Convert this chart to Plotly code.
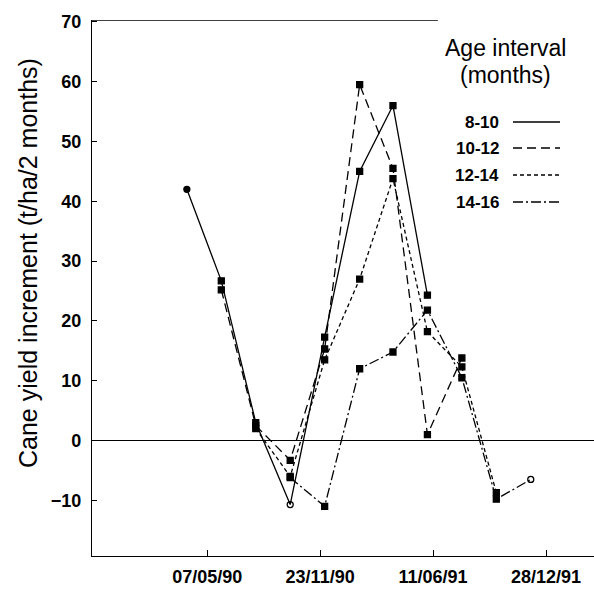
import plotly.graph_objects as go

dates = ['1990-04-01', '1990-06-01', '1990-08-01', '1990-10-01', '1990-12-01',
         '1991-02-01', '1991-04-01', '1991-06-01', '1991-08-01', '1991-10-01',
         '1991-12-01']

age_8_10 = [42, 26.7, 3, -10.7, 17.3, 45, 56, 24.3]
age_10_12 = [25.2, 2.5, -3.3, 15.3, 59.5, 45.5, 1, 13.8]
age_12_14 = [2, -6, 13.5, 27, 43.8, 18.2, 12.3, -8.7]
age_14_16 = [-6.2, -11, 12, 14.8, 21.8, 10.5, -9.8, -6.5]

series = [
    ('8-10', dates[0:8], age_8_10, 'solid'),
    ('10-12', dates[1:9], age_10_12, '9px,5px'),
    ('12-14', dates[2:10], age_12_14, '4px,3px'),
    ('14-16', dates[3:11], age_14_16, '10px,3px,2px,3px'),
]

tick_dates = ['1990-05-07', '1990-11-23', '1991-06-11', '1991-12-28']
tick_text = ['07/05/90', '23/11/90', '11/06/91', '28/12/91']
y_ticks = [-10, 0, 10, 20, 30, 40, 50, 60, 70]

FONT = 'Liberation Sans, Arial, sans-serif'

fig = go.Figure()
for name, xs, ys, dash in series:
    symbols = ['square'] * len(ys)
    if name == '8-10':
        symbols[0] = 'circle'
        symbols[3] = 'circle-open'
    if name == '14-16':
        symbols[-1] = 'circle-open'
    fig.add_trace(go.Scatter(
        x=xs, y=ys, mode='lines+markers', name=name,
        line=dict(color='black', width=1.3, dash=dash),
        marker=dict(color='black', size=6, symbol=symbols,
                    line=dict(color='black', width=1.3)),
        showlegend=False,
    ))

fig.update_layout(
    width=594, height=592,
    margin=dict(l=92, r=0, t=20, b=36),
    paper_bgcolor='white', plot_bgcolor='white',
    font=dict(family=FONT, color='black'),
    xaxis=dict(
        type='date', range=['1989-10-15', '1992-03-22'],
        tickvals=tick_dates, ticktext=tick_text,
        ticks='inside', ticklen=6, tickcolor='black', tickwidth=1,
        showline=True, linecolor='black', linewidth=1.3,
        showgrid=False, zeroline=False,
        tickfont=dict(size=18, family=FONT, weight='bold'),
        ticklabelstandoff=4,
    ),
    yaxis=dict(
        range=[-19.3, 70.3], tickvals=y_ticks,
        ticks='inside', ticklen=5, tickcolor='black', tickwidth=1,
        showline=True, linecolor='black', linewidth=1.3,
        showgrid=False, zeroline=True, zerolinecolor='black', zerolinewidth=1.3,
        tickfont=dict(size=18, family=FONT, weight='bold'),
        ticklabelstandoff=6,
    ),
)

# top border (partial, as in the reference)
fig.add_shape(type='line', xref='paper', yref='y', x0=0, x1=0.689, y0=70.3, y1=70.3,
              line=dict(color='black', width=1.3))

def px_x(p):
    return (p - 92) / 502.0

def px_y(p):
    return (556 - p) / 536.0

# y-axis title
fig.add_annotation(xref='paper', yref='paper', x=px_x(28), y=px_y(263),
                   text='Cane yield increment (t/ha/2 months)', textangle=-90,
                   showarrow=False, font=dict(size=25, family=FONT),
                   xanchor='center', yanchor='middle')

# custom legend
fig.add_annotation(xref='paper', yref='paper', x=px_x(505), y=px_y(48), text='Age interval',
                   showarrow=False, font=dict(size=23, family=FONT), xanchor='center', yanchor='middle')
fig.add_annotation(xref='paper', yref='paper', x=px_x(505), y=px_y(75), text='(months)',
                   showarrow=False, font=dict(size=23, family=FONT), xanchor='center', yanchor='middle')
leg_y = [122, 148, 175, 202]
for (name, xs, ys, dash), yy in zip(series, leg_y):
    fig.add_annotation(xref='paper', yref='paper', x=px_x(501), y=px_y(yy), text='<b>%s</b>' % name,
                       showarrow=False, font=dict(size=17, family=FONT), xanchor='right', yanchor='middle')
    fig.add_shape(type='line', xref='paper', yref='paper', x0=px_x(513), x1=px_x(560),
                  y0=px_y(yy), y1=px_y(yy), line=dict(color='black', width=1.3, dash=dash))

fig.write_html('out.html')
